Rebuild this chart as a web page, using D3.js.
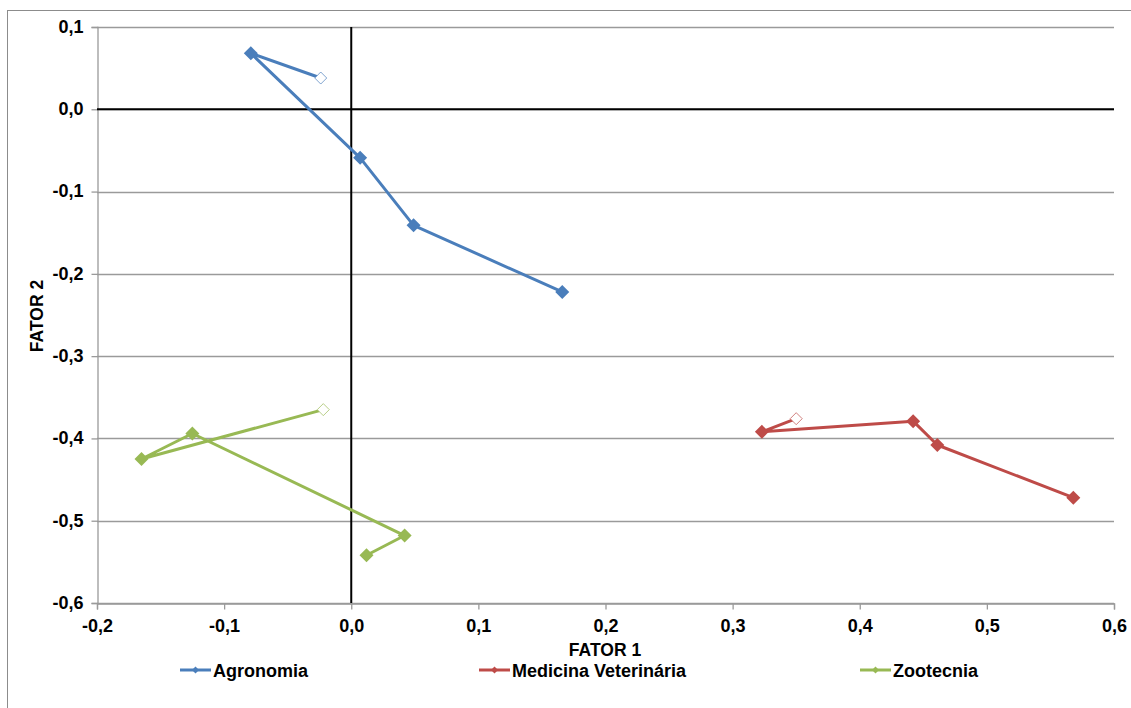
<!DOCTYPE html>
<html><head><meta charset="utf-8">
<script src="https://cdn.jsdelivr.net/npm/d3@7"></script>
<style>body{margin:0;background:#fff;} text{font-family:"Liberation Sans",Arial,sans-serif;}</style>
</head><body><svg id="c" width="1131" height="708"></svg>
<script>
const seriesNames = ["Agronomia", "Medicina Veterinária", "Zootecnia"];
const seriesColors = ["#4A7EBB", "#BE4B48", "#98B954"];
const agronomiaX = [-0.024, -0.079, 0.007, 0.049, 0.166];
const agronomiaY = [0.038, 0.068, -0.059, -0.141, -0.222];
const medicinaX = [0.350, 0.323, 0.442, 0.461, 0.568];
const medicinaY = [-0.376, -0.392, -0.379, -0.408, -0.472];
const zootecniaX = [-0.022, -0.165, -0.125, 0.042, 0.012];
const zootecniaY = [-0.365, -0.425, -0.394, -0.518, -0.542];
const xTicks = [-0.2, -0.1, 0.0, 0.1, 0.2, 0.3, 0.4, 0.5, 0.6];
const yTicks = [0.1, 0.0, -0.1, -0.2, -0.3, -0.4, -0.5, -0.6];
const xTitle = "FATOR 1", yTitle = "FATOR 2";

const seriesData = [
  agronomiaX.map((x,i)=>({x, y: agronomiaY[i]})),
  medicinaX.map((x,i)=>({x, y: medicinaY[i]})),
  zootecniaX.map((x,i)=>({x, y: zootecniaY[i]}))
];

const svg = d3.select("#c");
const L = 97, R = 1114, T = 27, B = 603;
const x = d3.scaleLinear().domain([-0.2, 0.6]).range([L, R]);
const y = d3.scaleLinear().domain([-0.6, 0.1]).range([B, T]);
const fmt = d => d3.format(".1f")(d).replace(".", ",").replace("−","-");

// outer border
svg.append("rect").attr("x", 7.5).attr("y", 10.5).attr("width", 1140).attr("height", 710)
  .attr("fill", "none").attr("stroke", "#8c8c8c").attr("stroke-width", 1);

// gridlines
svg.append("g").selectAll("line").data(yTicks).join("line")
  .attr("x1", L).attr("x2", R).attr("y1", d => Math.round(y(d)) + 0.5).attr("y2", d => Math.round(y(d)) + 0.5)
  .attr("stroke", "#9a9a9a").attr("stroke-width", 1.3);

// y axis
const yAxis = svg.append("g").attr("transform", `translate(${L + 0.5},0)`)
  .call(d3.axisLeft(y).tickValues(yTicks).tickFormat(fmt).tickSize(6).tickPadding(8));
// x axis
const xAxis = svg.append("g").attr("transform", `translate(0,${B + 0.5})`)
  .call(d3.axisBottom(x).tickValues(xTicks).tickFormat(fmt).tickSize(6).tickPadding(7));
[yAxis, xAxis].forEach(a => {
  a.select(".domain").attr("stroke", "#9a9a9a").attr("stroke-width", 1.3);
  a.selectAll(".tick line").attr("stroke", "#9a9a9a").attr("stroke-width", 1.3);
  a.selectAll(".tick text").attr("font-family", "Liberation Sans, Arial, sans-serif")
    .attr("font-size", 18).attr("font-weight", "bold").attr("fill", "#000");
});
yAxis.selectAll(".tick text").attr("dy", "0.3em");
xAxis.selectAll(".tick text").attr("dy", "0.85em");

// zero lines
svg.append("line").attr("x1", L).attr("x2", R).attr("y1", y(0)).attr("y2", y(0))
  .attr("stroke", "#000").attr("stroke-width", 2);
svg.append("line").attr("x1", x(0)).attr("x2", x(0)).attr("y1", T).attr("y2", B)
  .attr("stroke", "#000").attr("stroke-width", 2);

// series
const line = d3.line().x(d => x(d.x)).y(d => y(d.y));
const diamond = s => `M0,${-s}L${s},0L0,${s}L${-s},0Z`;
seriesData.forEach((data, si) => {
  const g = svg.append("g");
  g.append("path").datum(data).attr("d", line).attr("fill", "none")
    .attr("stroke", seriesColors[si]).attr("stroke-width", 3).attr("stroke-linejoin", "round");
  g.selectAll("path.m").data(data).join("path").attr("class", "m")
    .attr("transform", d => `translate(${x(d.x)},${y(d.y)})`)
    .attr("d", (d, i) => i === 0 ? diamond(6) : diamond(7))
    .attr("fill", (d, i) => i === 0 ? "#fff" : seriesColors[si])
    .attr("stroke", seriesColors[si])
    .attr("stroke-opacity", (d, i) => i === 0 ? 0.7 : 1)
    .attr("stroke-width", (d, i) => i === 0 ? 1 : 0);
});

// axis titles
svg.append("text").attr("x", 605).attr("y", 656).attr("text-anchor", "middle")
  .attr("font-size", 17.5).attr("font-weight", "bold").text(xTitle);
svg.append("text").attr("transform", "translate(43,316) rotate(-90)").attr("text-anchor", "middle")
  .attr("font-size", 17.5).attr("font-weight", "bold").text(yTitle);

// legend
const legX = [180, 479, 860];
seriesNames.forEach((n, i) => {
  const g = svg.append("g").attr("transform", `translate(${legX[i]},670)`);
  g.append("line").attr("x1", 0).attr("x2", 31).attr("stroke", seriesColors[i]).attr("stroke-width", 3);
  g.append("path").attr("transform", "translate(15.5,0)").attr("d", diamond(3.5)).attr("fill", seriesColors[i]);
  g.append("text").attr("x", 33).attr("y", 6.5).attr("font-size", 18).attr("font-weight", "bold").text(n);
});
</script></body></html>
